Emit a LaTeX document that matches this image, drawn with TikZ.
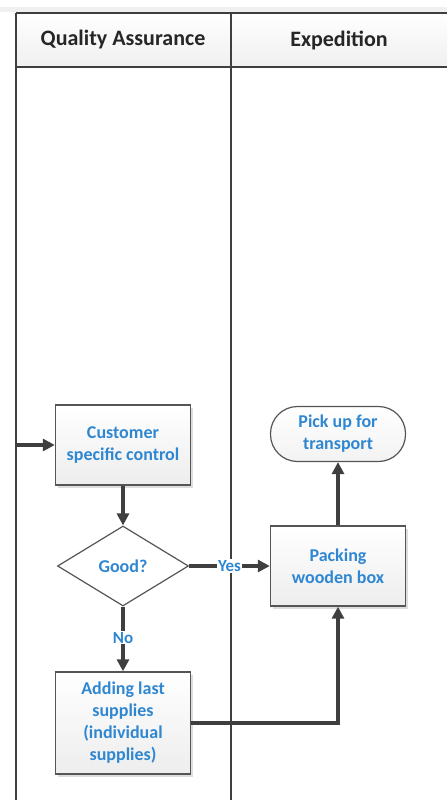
\documentclass[tikz,border=0pt]{standalone}
\usepackage{fontspec}
\setmainfont{Carlito}
\usetikzlibrary{shapes.geometric,shadows,arrows.meta}
\definecolor{txtblue}{HTML}{2F87D2}
\definecolor{linegray}{HTML}{3F3F3F}
\definecolor{boxline}{HTML}{555555}
\tikzset{
  procbox/.style={draw=boxline, line width=1.4pt, top color=white, bottom color=gray!14,
    drop shadow={shadow xshift=2.5pt, shadow yshift=-2.5pt, fill=gray!45, opacity=0.6},
    minimum width=135pt, align=center, text=txtblue,
    font=\fontsize{18}{22}\selectfont\bfseries},
  decision/.style={diamond, draw=boxline, line width=1.2pt, fill=white, aspect=1.64,
    minimum width=131pt, minimum height=80pt, inner sep=0pt, text=txtblue,
    font=\fontsize{18}{22}\selectfont\bfseries},
  terminal/.style={draw=boxline, line width=1.2pt, rounded corners=27pt, top color=white, bottom color=gray!10,
    minimum width=135pt, minimum height=55pt, align=center, text=txtblue,
    font=\fontsize{18}{22}\selectfont\bfseries},
  conn/.style={draw=linegray, line width=3.2pt, -{Triangle[length=12pt,width=12pt]}},
  lane/.style={draw=linegray, line width=1.8pt},
  lbl/.style={fill=white, text=txtblue, inner sep=1pt, font=\fontsize{17}{20}\selectfont\bfseries},
  headtxt/.style={text=black!85, font=\fontsize{22}{26}\selectfont\bfseries}
}
\begin{document}
\begin{tikzpicture}[x=1pt,y=-1pt]
\useasboundingbox (0,0) rectangle (447,800);
% top faint band
\fill[gray!12] (0,7) rectangle (447,12);
% header
\shade[top color=white, bottom color=gray!12] (16,13) rectangle (447,67);
\draw[lane] (16,13) -- (447,13);
\draw[lane] (16,67) -- (447,67);
\draw[lane] (16,13) -- (16,800);
\draw[lane] (231,13) -- (231,800);
\node[headtxt] (h1) at (123,40) {Quality Assurance};
\node[headtxt] (h2) at (339,40) {Expedition};
% nodes
\node[procbox, minimum height=80pt] (cust) at (123,445) {Customer\\specific control};
\node[decision] (good) at (123,566) {Good?};
\node[procbox, minimum height=80pt] (pack) at (338,566) {Packing\\wooden box};
\node[terminal] (pick) at (338,434) {Pick up for\\transport};
\node[procbox, minimum height=102pt] (add) at (123,723) {Adding last\\supplies\\(individual\\supplies)};
\coordinate (in) at (16,445);
% connectors
\draw[conn] (in) -- (cust.west);
\draw[conn] (cust.south) -- (good.north);
\draw[conn] (good.east) -- node[lbl, pos=0.5] {Yes} (pack.west);
\draw[conn] (good.south) -- node[lbl, pos=0.48] {No} (add.north);
\draw[conn] (pack.north) -- (pick.south);
\draw[conn] (add.east) -| (pack.south);
\end{tikzpicture}
\end{document}
